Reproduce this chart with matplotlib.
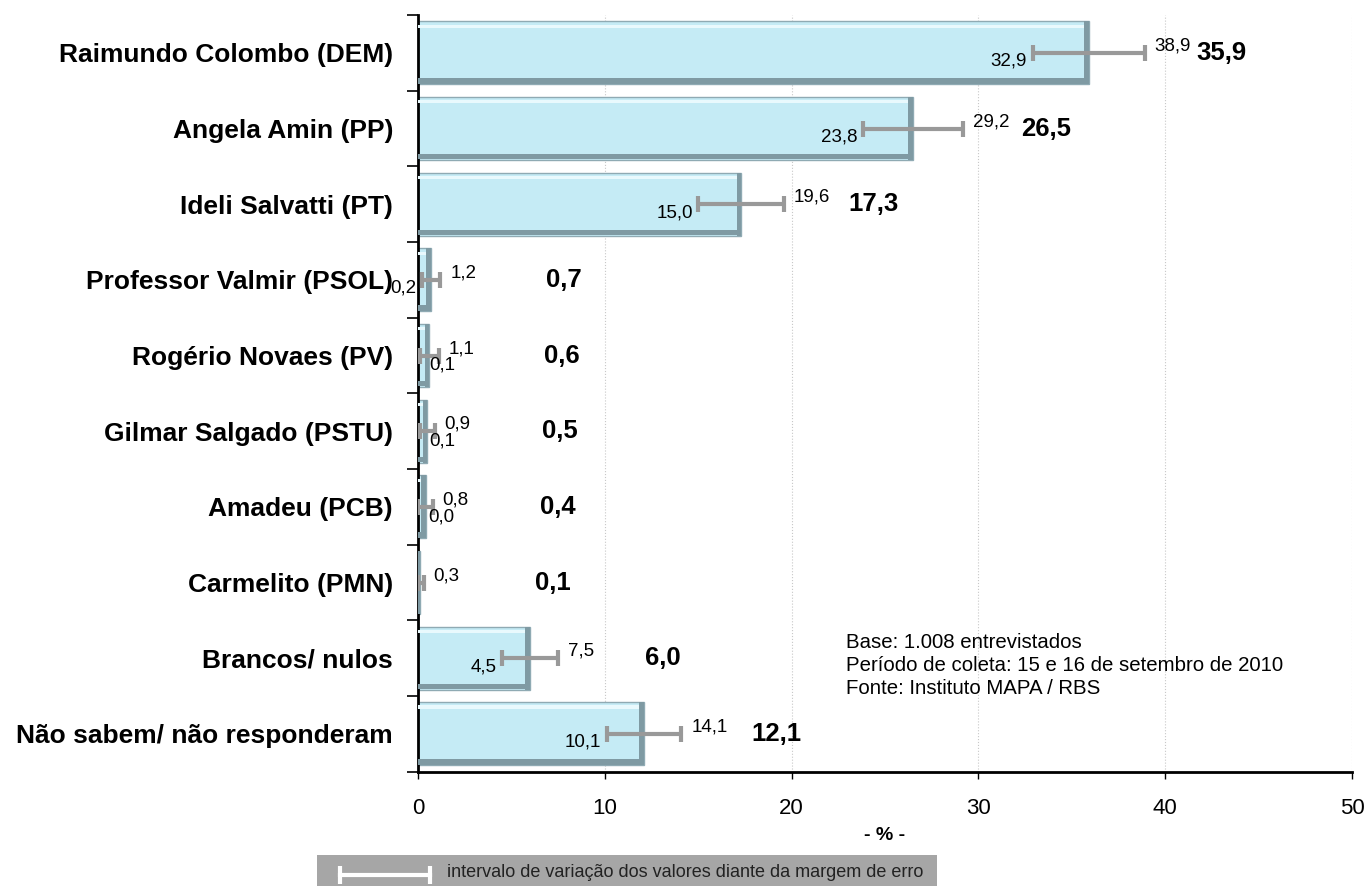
import numpy as np
import matplotlib
matplotlib.use('Agg')
import matplotlib.pyplot as plt
from matplotlib.patches import Rectangle
from matplotlib.lines import Line2D

plt.rcParams['font.family'] = ['Liberation Sans', 'DejaVu Sans']

categories = ['Raimundo Colombo (DEM)', 'Angela Amin (PP)', 'Ideli Salvatti (PT)',
              'Professor Valmir (PSOL)', 'Rogério Novaes (PV)', 'Gilmar Salgado (PSTU)',
              'Amadeu (PCB)', 'Carmelito (PMN)', 'Brancos/ nulos',
              'Não sabem/ não responderam']
values = [35.9, 26.5, 17.3, 0.7, 0.6, 0.5, 0.4, 0.1, 6.0, 12.1]
lows = [32.9, 23.8, 15.0, 0.2, 0.1, 0.1, 0.0, 0.0, 4.5, 10.1]
highs = [38.9, 29.2, 19.6, 1.2, 1.1, 0.9, 0.8, 0.3, 7.5, 14.1]
low_labels = ['32,9', '23,8', '15,0', '0,2', '0,1', '0,1', '0,0', '', '4,5', '10,1']
notes = ['Base: 1.008 entrevistados',
         'Período de coleta: 15 e 16 de setembro de 2010',
         'Fonte: Instituto MAPA / RBS']

def br(v):
    return f'{v:.1f}'.replace('.', ',')

fig = plt.figure(figsize=(13.68, 8.86), dpi=100)
ax = fig.add_axes([0.3056, 0.129, 0.6827, 0.854])

y = np.arange(len(categories))
v = np.array(values)
h = 0.83

# barras com efeito de relevo
ax.barh(y, v, height=h, color='#C5EBF5', edgecolor='#8FAAB3', linewidth=1, zorder=2)
ax.barh(y + h / 2 - 0.045, v, height=0.07, color='#7F9AA3', linewidth=0, zorder=3)
ax.barh(y - h / 2 + 0.06, v, height=0.04, color='#E9F9FD', linewidth=0, zorder=3)
rw = np.minimum(v, 0.25)
ax.barh(y, rw, left=v - rw, height=h, color='#7F9AA3', linewidth=0, zorder=3)

# intervalo da margem de erro
ax.errorbar(v, y, xerr=[v - np.array(lows), np.array(highs) - v], fmt='none',
            ecolor='#999999', elinewidth=3, capsize=5.5, capthick=3, zorder=4)

for i in range(len(categories)):
    if low_labels[i]:
        # rótulos muito perto do eixo ficam à direita do início da barra
        if lows[i] < 0.2:
            ax.annotate(low_labels[i], (lows[i], y[i]), xytext=(7, -7),
                        textcoords='offset points', ha='left', va='center',
                        fontsize=13.5, zorder=5)
        else:
            ax.annotate(low_labels[i], (lows[i], y[i]), xytext=(-4, -6),
                        textcoords='offset points', ha='right', va='center',
                        fontsize=13.5, zorder=5)
    ax.annotate(br(highs[i]), (highs[i], y[i]), xytext=(7, 5), textcoords='offset points',
                ha='left', va='center', fontsize=13.5, zorder=5)
    ax.text(values[i] + 7.1, y[i], br(values[i]), ha='center', va='center',
            fontsize=18.5, fontweight='bold', zorder=5)

ax.set_xlim(0, 50)
ax.set_ylim(len(categories) - 0.5, -0.5)
ax.set_xticks([0, 10, 20, 30, 40, 50])
ax.tick_params(axis='x', labelsize=16, length=5, width=1, direction='out', pad=14)
ax.set_yticks(y)
ax.set_yticklabels(categories, fontsize=19, fontweight='bold')
ax.set_yticks(np.arange(len(categories) + 1) - 0.5, minor=True)
ax.tick_params(axis='y', which='major', length=0, pad=18)
ax.tick_params(axis='y', which='minor', length=8, width=1.2, direction='out')
ax.set_xlabel('- % -', fontsize=14, fontweight='bold', labelpad=6)

for s in ['top', 'right']:
    ax.spines[s].set_visible(False)
ax.spines['left'].set_linewidth(2)
ax.spines['bottom'].set_linewidth(2)
ax.xaxis.grid(True, linestyle=':', color='#C8C8C8', linewidth=0.8)
ax.set_axisbelow(True)

ax.text(0.458, 0.183, '\n'.join(notes), transform=ax.transAxes, ha='left', va='top',
        fontsize=14.7, linespacing=1.25)

# legenda do intervalo
fig.patches.append(Rectangle((0.2317, 0.0), 0.4533, 0.035, transform=fig.transFigure,
                             facecolor='#A6A6A6', edgecolor='none'))
fig.lines.append(Line2D([0.2485, 0.3143], [0.0124, 0.0124], transform=fig.transFigure,
                        color='white', linewidth=3, marker='|', markersize=13,
                        markeredgewidth=3))
fig.text(0.3265, 0.0155, 'intervalo de variação dos valores diante da margem de erro',
         ha='left', va='center', fontsize=13, color='#222222')

fig.savefig('out.png', dpi=100)
